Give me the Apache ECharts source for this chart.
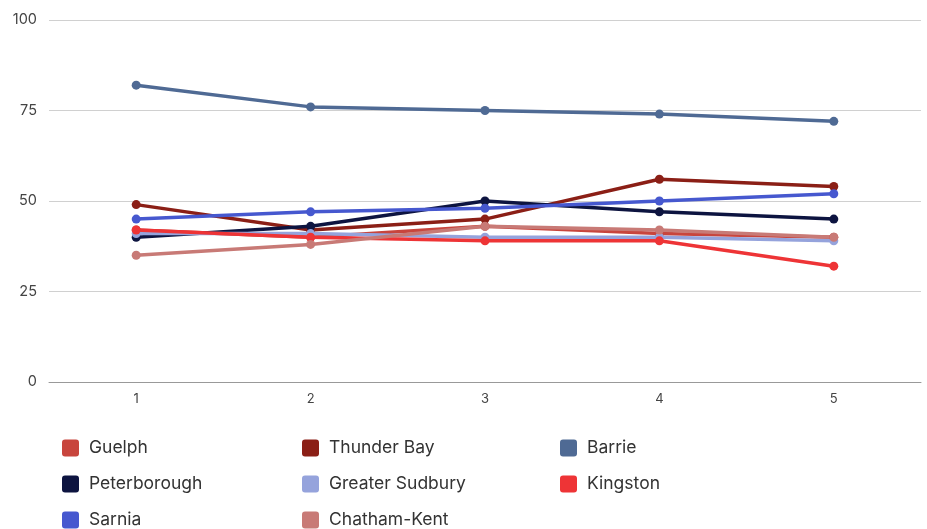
<!DOCTYPE html>
<html><head><meta charset="utf-8">
<script src="https://cdn.jsdelivr.net/npm/echarts@6/dist/echarts.min.js"></script>
<style>html,body{margin:0;padding:0;background:#fff}#c{width:927px;height:529px}</style>
</head><body><div id="c"></div>
<script>
var categories = ['1','2','3','4','5'];
var seriesNames = ['Guelph','Thunder Bay','Barrie','Peterborough','Greater Sudbury','Kingston','Sarnia','Chatham-Kent'];
var colors = ['#c8453d','#8b1f16','#4f6a94','#0d1440','#95a3dc','#ee3436','#4658cf','#c87a76'];
var guelph = [42, 40, 43, 41, 40];
var thunderBay = [49, 42, 45, 56, 54];
var barrie = [82, 76, 75, 74, 72];
var peterborough = [40, 43, 50, 47, 45];
var greaterSudbury = [41, 41, 40, 40, 39];
var kingston = [42, 40, 39, 39, 32];
var sarnia = [45, 47, 48, 50, 52];
var chathamKent = [35, 38, 43, 42, 40];
var yTicks = [0, 25, 50, 75, 100];

var dataSets = [guelph, thunderBay, barrie, peterborough, greaterSudbury, kingston, sarnia, chathamKent];
var chart = echarts.init(document.getElementById('c'));
var font = 'Inter, "Noto Sans", sans-serif';
function legendCol(left, names) {
  return {
    orient: 'vertical', left: left, top: 439, height: 90, padding: 0,
    itemWidth: 17, itemHeight: 17, itemGap: 18,
    icon: 'path://M3,0 L14,0 Q17,0 17,3 L17,14 Q17,17 14,17 L3,17 Q0,17 0,14 L0,3 Q0,0 3,0 Z',
    textStyle: { fontFamily: font, fontSize: 17.5, lineHeight: 17, color: '#333', padding: [0,0,0,5] },
    data: names, selectedMode: false
  };
}
chart.setOption({
  animation: false,
  color: colors,
  grid: { left: 49, right: 6, top: 20, bottom: 147 },
  xAxis: {
    type: 'category', data: categories, boundaryGap: true,
    axisLine: { lineStyle: { color: '#999' } }, axisTick: { show: false },
    axisLabel: { fontFamily: font, fontSize: 13, color: '#444', margin: 11 }
  },
  yAxis: {
    type: 'value', min: yTicks[0], max: yTicks[yTicks.length-1], interval: 25,
    axisLabel: { fontFamily: font, fontSize: 14.5, color: '#444', margin: 12 },
    splitLine: { lineStyle: { color: '#d0d0d0' } },
    axisLine: { show: false }, axisTick: { show: false }
  },
  legend: [
    legendCol(62, ['Guelph','Peterborough','Sarnia']),
    legendCol(302, ['Thunder Bay','Greater Sudbury','Chatham-Kent']),
    legendCol(560, ['Barrie','Kingston'])
  ],
  series: seriesNames.map(function(n, i) {
    return {
      name: n, type: 'line', data: dataSets[i], symbol: 'circle', symbolSize: 9,
      lineStyle: { width: 3.5 }, itemStyle: { color: colors[i] }
    };
  })
});
</script></body></html>
